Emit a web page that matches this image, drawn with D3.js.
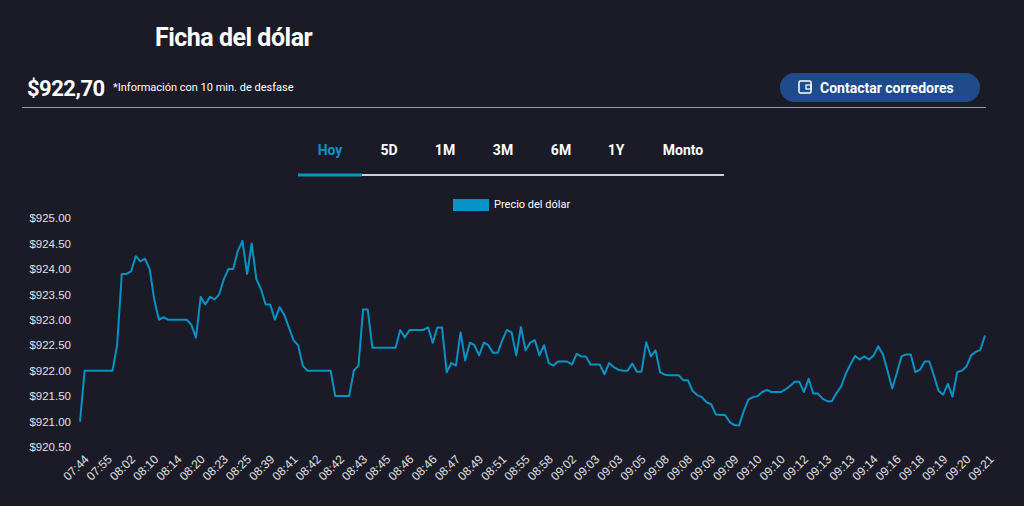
<!DOCTYPE html>
<html>
<head>
<meta charset="utf-8">
<script src="https://cdn.jsdelivr.net/npm/d3@7"></script>
<style>
  body { margin: 0; background: #1a1b26; }
  svg { display: block; font-family: Roboto, "Noto Sans", sans-serif; }
</style>
</head>
<body>
<div id="chart"></div>
<script>
// values, one per point
var prices = [
  921.0,922,922,922,922,922,922,922,922.5,923.9,
  923.9,923.95,924.25,924.15,924.2,924.0,923.4,923.0,923.05,923.0,
  923.0,923.0,923.0,923.0,922.9,922.65,923.45,923.3,923.45,923.4,
  923.5,923.8,924.0,924.0,924.35,924.55,923.9,924.5,923.8,923.6,
  923.3,923.3,923.0,923.25,923.1,922.85,922.6,922.5,922.1,922.0,
  922,922,922,922,922,921.5,921.5,921.5,921.5,922.0,
  922.1,923.2,923.2,922.45,922.45,922.45,922.45,922.45,922.45,922.8,
  922.65,922.8,922.8,922.8,922.8,922.85,922.55,922.85,922.85,921.97,
  922.15,922.1,922.75,922.2,922.55,922.5,922.3,922.55,922.5,922.35,
  922.35,922.6,922.8,922.75,922.3,922.86,922.4,922.55,922.6,922.3,
  922.5,922.15,922.1,922.18,922.18,922.18,922.12,922.33,922.28,922.28,
  922.12,922.12,922.12,921.93,922.15,922.07,922.02,922.0,922.0,922.14,
  921.98,921.98,922.56,922.28,922.4,921.97,921.92,921.91,921.91,921.91,
  921.81,921.81,921.6,921.52,921.48,921.38,921.34,921.14,921.13,921.13,
  920.99,920.93,920.92,921.2,921.43,921.48,921.5,921.58,921.62,921.58,
  921.58,921.58,921.63,921.7,921.78,921.78,921.58,921.84,921.55,921.55,
  921.45,921.4,921.4,921.56,921.69,921.94,922.12,922.29,922.22,922.28,
  922.22,922.3,922.48,922.32,922.0,921.65,921.95,922.28,922.32,922.32,
  921.97,922.02,922.18,922.18,921.9,921.6,921.53,921.74,921.49,921.97,
  922.0,922.08,922.3,922.37,922.41,922.69
];

// one label every 5 points
var timeLabels = ["07:44","07:55","08:02","08:10","08:14","08:20","08:23","08:25","08:39","08:41",
  "08:42","08:42","08:43","08:45","08:46","08:46","08:47","08:49","08:51","08:55",
  "08:58","09:02","09:03","09:03","09:05","09:08","09:08","09:09","09:09","09:10",
  "09:10","09:12","09:13","09:13","09:14","09:16","09:18","09:19","09:20","09:21"];

var yTicks = [920.5, 921, 921.5, 922, 922.5, 923, 923.5, 924, 924.5, 925];

var tabs = ["Hoy", "5D", "1M", "3M", "6M", "1Y", "Monto"];
var tabX = [330, 389, 445, 503, 561, 616, 683];

var w = 1024, h = 506;
var blue = "#0793c6";

var svg = d3.select("#chart").append("svg")
    .attr("width", w).attr("height", h);

// header
svg.append("text").attr("x", 155).attr("y", 46)
    .attr("fill", "#fff").attr("font-size", 25).attr("font-weight", "bold")
    .attr("letter-spacing", -0.5)
    .text("Ficha del dólar");

svg.append("text").attr("x", 27).attr("y", 96)
    .attr("fill", "#fff").attr("font-size", 22).attr("font-weight", "bold")
    .attr("letter-spacing", -0.5)
    .text("$922,70");

svg.append("text").attr("x", 113).attr("y", 91)
    .attr("fill", "#fff").attr("font-size", 11)
    .text("*Información con 10 min. de desfase");

// button
svg.append("rect").attr("x", 780).attr("y", 73).attr("width", 200).attr("height", 29)
    .attr("rx", 14.5).attr("fill", "#1f4b8c");
svg.append("rect").attr("x", 799).attr("y", 81).attr("width", 12).attr("height", 12)
    .attr("rx", 1.5).attr("fill", "none").attr("stroke", "#fff").attr("stroke-width", 1.5);
svg.append("rect").attr("x", 806).attr("y", 85).attr("width", 5).attr("height", 4)
    .attr("fill", "none").attr("stroke", "#fff").attr("stroke-width", 1.2);
svg.append("text").attr("x", 820).attr("y", 93)
    .attr("fill", "#fff").attr("font-size", 14).attr("font-weight", "bold")
    .text("Contactar corredores");

svg.append("line").attr("x1", 22).attr("x2", 986).attr("y1", 107.5).attr("y2", 107.5)
    .attr("stroke", "#9a9aa0").attr("stroke-width", 1.2);

// tabs
svg.selectAll(".tab").data(tabs).enter().append("text")
    .attr("class", "tab")
    .attr("x", function (d, i) { return tabX[i]; })
    .attr("y", 155)
    .attr("text-anchor", "middle")
    .attr("fill", function (d, i) { return i == 0 ? blue : "#fff"; })
    .attr("font-size", 14).attr("font-weight", "bold")
    .text(function (d) { return d; });

svg.append("line").attr("x1", 298).attr("x2", 724).attr("y1", 175).attr("y2", 175)
    .attr("stroke", "#d0d0d4").attr("stroke-width", 2);
svg.append("line").attr("x1", 298).attr("x2", 362).attr("y1", 175).attr("y2", 175)
    .attr("stroke", blue).attr("stroke-width", 3);

// legend
svg.append("rect").attr("x", 453).attr("y", 199).attr("width", 36).attr("height", 12)
    .attr("fill", blue);
svg.append("text").attr("x", 494).attr("y", 208)
    .attr("fill", "#fff").attr("font-size", 11)
    .text("Precio del dólar");

// scales
var xScale = d3.scaleLinear()
    .domain([0, prices.length - 1])
    .range([80, 985]);

var yScale = d3.scaleLinear()
    .domain([920.5, 925])
    .range([447, 218]);

var yAxis = d3.axisLeft(yScale)
    .tickValues(yTicks)
    .tickSize(0)
    .tickPadding(0)
    .tickFormat(function (d) { return "$" + d3.format(".2f")(d); });

var gy = svg.append("g")
    .attr("transform", "translate(71,0)")
    .call(yAxis);
gy.select(".domain").remove();
gy.selectAll("text").attr("fill", "#e0e0e4").attr("font-size", 11.5)
    .attr("font-family", "Arial, 'Liberation Sans', sans-serif");

var xAxis = d3.axisBottom(xScale)
    .tickValues(d3.range(0, prices.length, 5))
    .tickSize(0)
    .tickFormat(function (d) { return timeLabels[d / 5]; });

var gx = svg.append("g")
    .attr("transform", "translate(0,458)")
    .call(xAxis);
gx.select(".domain").remove();
gx.selectAll("text")
    .attr("fill", "#e0e0e4").attr("font-size", 12)
    .attr("font-family", "Arial, 'Liberation Sans', sans-serif")
    .attr("text-anchor", "end")
    .attr("dy", "0.35em")
    .attr("transform", "translate(4,-3) rotate(-45)");

// price line
var line = d3.line()
    .x(function (d, i) { return xScale(i); })
    .y(function (d) { return yScale(d); });

svg.append("path")
    .datum(prices)
    .attr("d", line)
    .attr("fill", "none")
    .attr("stroke", blue)
    .attr("stroke-width", 2)
    .attr("stroke-linejoin", "round");
</script>
</body>
</html>
